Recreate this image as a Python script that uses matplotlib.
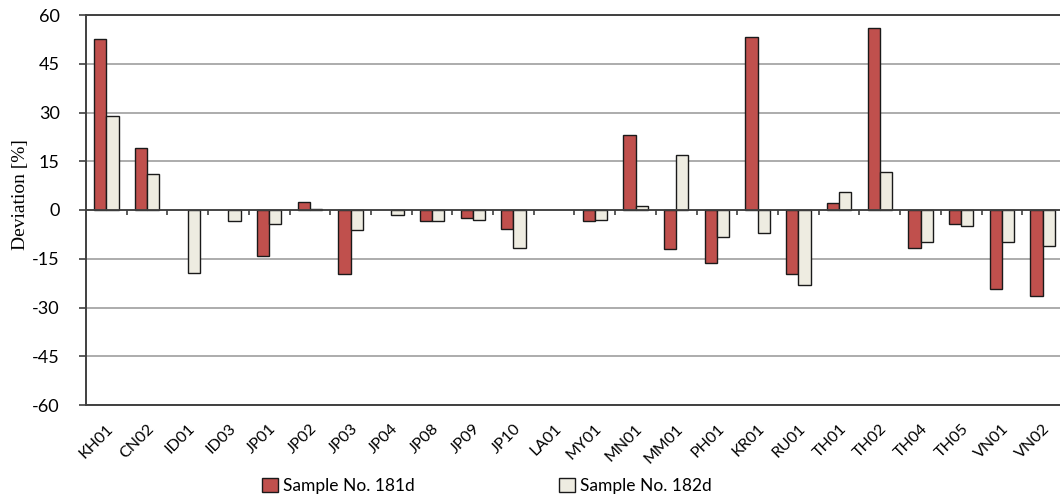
import matplotlib
matplotlib.use("Agg")
import matplotlib.pyplot as plt
import numpy as np
from matplotlib.patches import Patch

categories = ["KH01", "CN02", "ID01", "ID03", "JP01", "JP02", "JP03", "JP04", "JP08", "JP09",
              "JP10", "LA01", "MY01", "MN01", "MM01", "PH01", "KR01", "RU01", "TH01", "TH02",
              "TH04", "TH05", "VN01", "VN02"]
s181 = [52.6, 19.0, 0.0, 0.0, -14.2, 2.4, -19.8, 0.0, -3.4, -2.6,
        -5.8, 0.0, -3.4, 23.1, -12.1, -16.4, 53.1, -19.8, 2.3, 55.9,
        -11.6, -4.3, -24.4, -26.4]
s182 = [28.9, 11.0, -19.3, -3.4, -4.4, 0.4, -6.2, -1.5, -3.4, -3.1,
        -11.7, 0.0, -3.1, 1.3, 16.9, -8.2, -7.2, -23.1, 5.6, 11.8,
        -9.7, -4.9, -9.7, -11.1]
yticks = [-60, -45, -30, -15, 0, 15, 30, 45, 60]
legend_labels = ["Sample No. 181d", "Sample No. 182d"]

sans = ["Lato", "DejaVu Sans"]
fig = plt.figure(figsize=(10.6, 5.0), dpi=100)
ax = fig.add_axes([86/1060, 95/500, 977/1060, 390/500])

x = np.arange(len(categories))
w = 0.30
red = "#C0504D"
cream = "#EEECE1"
for i, v in enumerate(s181):
    if v != 0:
        ax.bar(x[i] - w/2, v, w, color=red, edgecolor="#1a1a1a", linewidth=1.0, zorder=3)
for i, v in enumerate(s182):
    if v != 0:
        ax.bar(x[i] + w/2, v, w, color=cream, edgecolor="#1a1a1a", linewidth=1.0, zorder=3)

ax.set_xlim(-0.5, len(categories) - 0.5)
ax.set_ylim(-60, 60)
ax.set_yticks(yticks)
ax.set_yticklabels([str(t) for t in yticks], fontsize=13, family=sans)
ax.yaxis.grid(True, color="#A6A6A6", linewidth=1.3, zorder=0)
ax.set_axisbelow(True)
ax.tick_params(axis="y", direction="out", length=5, width=1.2, color="#404040", pad=14)

ax.set_xticks(x)
ax.set_xticklabels(categories, rotation=45, ha="right", rotation_mode="anchor",
                   fontsize=11.5, family=sans)
ax.tick_params(axis="x", length=0, pad=12)

# zero axis line with category boundary ticks
ax.axhline(0, color="#404040", linewidth=1.3, zorder=4)
bounds = x[:-1] + 0.5
ax.vlines(bounds, -1.4, 0, color="#404040", linewidth=1.2, zorder=4)

for s in ["left", "bottom", "top"]:
    ax.spines[s].set_color("#404040")
    ax.spines[s].set_linewidth(1.4)
ax.spines["right"].set_visible(False)

ax.set_ylabel("Deviation [%]", family=["Liberation Serif", "DejaVu Serif"], fontsize=14)
ax.yaxis.set_label_coords(-0.058, 0.54)

handles = [Patch(facecolor=red, edgecolor="#1a1a1a", linewidth=1.0),
           Patch(facecolor=cream, edgecolor="#1a1a1a", linewidth=1.0)]
fig.legend(handles, legend_labels, loc="center", bbox_to_anchor=(487/1060, 1 - 486/500),
           ncol=2, frameon=False, handlelength=0.9, handleheight=0.9, handletextpad=0.3,
           columnspacing=8.3, prop={"family": sans, "size": 12.5})

fig.savefig("out.png", dpi=100)
